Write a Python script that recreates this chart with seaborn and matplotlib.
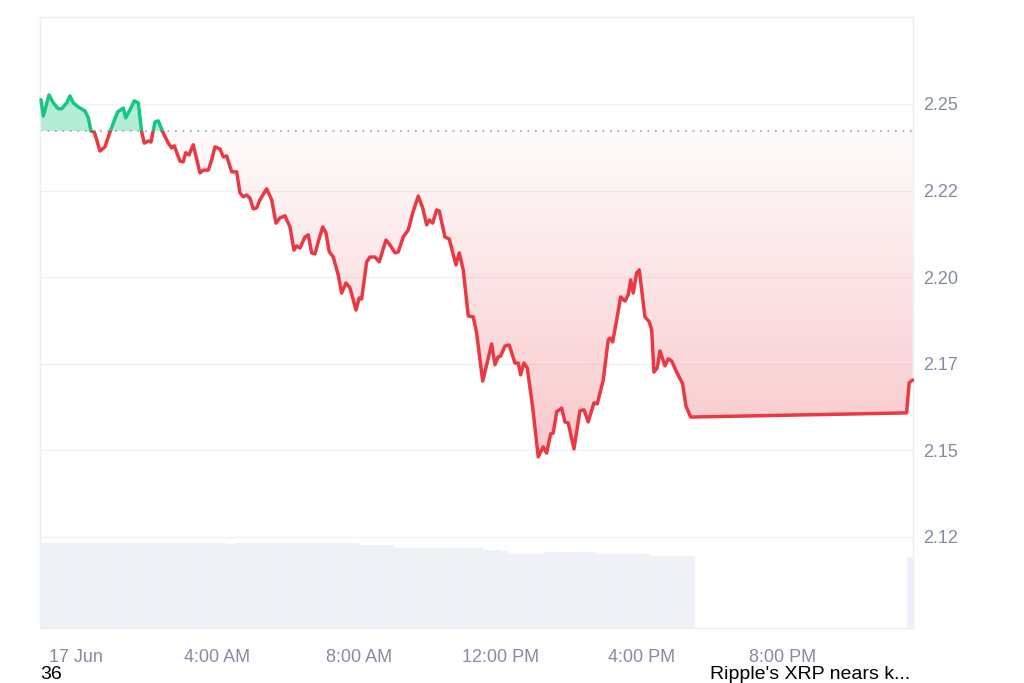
import matplotlib
matplotlib.use("Agg")

import numpy as np
import seaborn as sns
import matplotlib.pyplot as plt
from matplotlib.colors import to_rgb
from matplotlib.patches import Rectangle
from matplotlib.path import Path

# XRP price, 17 Jun (hours since midnight)
hours = [-0.990, -0.925, -0.764, -0.642, -0.501, -0.405, -0.263, -0.170, -0.076, 0.065,
         0.255, 0.348, 0.424, 0.518, 0.679, 0.820, 0.962, 1.055, 1.180, 1.338,
         1.406, 1.528, 1.649, 1.762, 1.859, 1.932, 2.045, 2.122, 2.235, 2.328,
         2.470, 2.611, 2.707, 2.781, 2.942, 3.035, 3.103, 3.197, 3.318, 3.366,
         3.508, 3.601, 3.743, 3.839, 3.932, 4.074, 4.167, 4.263, 4.405, 4.546,
         4.639, 4.733, 4.829, 4.922, 5.016, 5.112, 5.205, 5.395, 5.536, 5.658,
         5.771, 5.912, 6.054, 6.167, 6.243, 6.337, 6.478, 6.571, 6.668, 6.761,
         6.854, 6.979, 7.072, 7.166, 7.279, 7.420, 7.516, 7.638, 7.751, 7.921,
         8.014, 8.082, 8.223, 8.317, 8.458, 8.580, 8.769, 8.883, 9.024, 9.118,
         9.259, 9.400, 9.525, 9.683, 9.808, 9.921, 9.995, 10.091, 10.204, 10.277,
         10.438, 10.560, 10.750, 10.843, 10.956, 11.098, 11.239, 11.335, 11.505, 11.598,
         11.760, 11.853, 11.946, 12.014, 12.136, 12.257, 12.419, 12.512, 12.580, 12.673,
         12.767, 12.919, 13.078, 13.219, 13.315, 13.428, 13.502, 13.598, 13.740, 13.833,
         13.926, 14.088, 14.257, 14.371, 14.492, 14.653, 14.747, 14.917, 15.058, 15.106,
         15.183, 15.296, 15.409, 15.530, 15.624, 15.692, 15.765, 15.861, 15.935, 16.096,
         16.218, 16.286, 16.351, 16.444, 16.521, 16.662, 16.756, 16.852, 16.993, 17.163,
         17.256, 17.389, 23.499, 23.573, 23.669]
price = [2.2512, 2.2465, 2.2526, 2.2503, 2.2486, 2.2486, 2.2503, 2.2523, 2.2503, 2.2491,
         2.2480, 2.2460, 2.2422, 2.2419, 2.2364, 2.2376, 2.2419, 2.2445, 2.2477, 2.2488,
         2.2460, 2.2483, 2.2509, 2.2503, 2.2419, 2.2387, 2.2393, 2.2390, 2.2448, 2.2451,
         2.2416, 2.2387, 2.2373, 2.2379, 2.2335, 2.2333, 2.2359, 2.2353, 2.2382, 2.2361,
         2.2301, 2.2309, 2.2309, 2.2338, 2.2376, 2.2370, 2.2347, 2.2350, 2.2304, 2.2304,
         2.2243, 2.2232, 2.2237, 2.2228, 2.2197, 2.2200, 2.2223, 2.2255, 2.2223, 2.2156,
         2.2171, 2.2177, 2.2145, 2.2078, 2.2090, 2.2084, 2.2116, 2.2122, 2.2070, 2.2067,
         2.2102, 2.2145, 2.2128, 2.2073, 2.2058, 2.2006, 2.1954, 2.1983, 2.1969, 2.1905,
         2.1940, 2.1937, 2.2044, 2.2058, 2.2058, 2.2044, 2.2107, 2.2093, 2.2070, 2.2073,
         2.2116, 2.2136, 2.2185, 2.2234, 2.2200, 2.2151, 2.2165, 2.2156, 2.2194, 2.2191,
         2.2116, 2.2110, 2.2035, 2.2070, 2.2021, 2.1888, 2.1885, 2.1839, 2.1700, 2.1738,
         2.1807, 2.1747, 2.1770, 2.1772, 2.1801, 2.1804, 2.1752, 2.1752, 2.1718, 2.1752,
         2.1738, 2.1625, 2.1481, 2.1510, 2.1492, 2.1547, 2.1550, 2.1611, 2.1622, 2.1582,
         2.1579, 2.1504, 2.1614, 2.1617, 2.1582, 2.1637, 2.1634, 2.1703, 2.1819, 2.1824,
         2.1813, 2.1876, 2.1943, 2.1931, 2.1949, 2.1992, 2.1954, 2.2012, 2.2021, 2.1885,
         2.1871, 2.1848, 2.1726, 2.1738, 2.1787, 2.1744, 2.1764, 2.1758, 2.1726, 2.1692,
         2.1628, 2.1596, 2.1608, 2.1695, 2.1703]
open_price = 2.2422

# volume (relative), 15 min bars from 23:00 plus the last one
vol = [85, 85, 85, 85, 85, 85, 85, 85, 85, 85, 85, 85, 85, 85, 85, 85, 85, 85, 85, 85,
       85, 84, 85, 85, 85, 85, 85, 85, 85, 85, 85, 85, 85, 85, 85, 85, 83.5, 83.5, 83.5, 83.5,
       80, 80, 80, 80, 80, 80, 80, 80, 80, 80, 78, 78, 77, 74.5, 74.5, 74.5, 74.5, 76.5, 76.5, 76.5,
       76.5, 76.5, 76.5, 74.5, 74.5, 74.5, 74.5, 74.5, 74.5, 72.5, 72.5, 72.5, 72.5, 72.5]
vol_last = 71.5
vol_last_hour = 23.5

tick_hours = [0, 4, 8, 12, 16, 20]
tick_labels = ["17 Jun", "4:00 AM", "8:00 AM", "12:00 PM", "4:00 PM", "8:00 PM"]
price_ticks = [2.125, 2.15, 2.175, 2.2, 2.225, 2.25]
price_labels = ["2.12", "2.15", "2.17", "2.20", "2.22", "2.25"]

GREEN = "#16c784"
RED = "#ea3943"
GREY = "#858ca2"

sns.set_style("white")
plt.rcParams["font.family"] = ["Liberation Sans", "DejaVu Sans"]

hours = np.array(hours)
price = np.array(price)
xmin, xmax = -1.018, 23.68
ymin, ymax = 2.0987, 2.2751

fig = plt.figure(figsize=(10.24, 6.83), dpi=100)
ax = fig.add_axes([40 / 1024, 55 / 683, 873 / 1024, 611 / 683])

# volume on a twin axis, drawn underneath
axv = ax.twinx()
vol_hours = list(np.arange(len(vol)) * 0.25 - 1.0) + [vol_last_hour]
vol_all = vol + [vol_last]
widths = [0.25] * len(vol) + [0.17]
axv.bar(vol_hours, vol_all, width=widths, align="edge", color="#eef1f5",
        edgecolor="#f6f8fa", linewidth=0.3)
axv.set_ylim(0, 611)
axv.set_yticks([])
for s in axv.spines.values():
    s.set_visible(False)
ax.set_zorder(axv.get_zorder() + 1)
ax.patch.set_visible(False)

# green fill above the open
ax.fill_between(hours, price, open_price, where=price >= open_price, interpolate=True,
                color=GREEN, alpha=0.32, linewidth=0, zorder=1)

# red gradient fill below the open
poly = ax.fill_between(hours, price, open_price, where=price <= open_price, interpolate=True,
                       facecolor="none", edgecolor="none")
rgba = np.zeros((256, 1, 4))
rgba[..., :3] = to_rgb(RED)
rgba[..., 3] = np.linspace(0.28, 0.02, 256)[:, None]
img = ax.imshow(rgba, extent=[xmin, xmax, price.min(), open_price], origin="lower",
                aspect="auto", zorder=1)
img.set_clip_path(Path.make_compound_path(*poly.get_paths()), ax.transData)

# price line, red below the open and green above
sns.lineplot(x=hours, y=price, ax=ax, color=RED, linewidth=2.5, zorder=3)
red_line = ax.lines[-1]
red_line.set_clip_path(Rectangle((xmin - 1, ymin - 1), 30, open_price - ymin + 1,
                                 transform=ax.transData))
sns.lineplot(x=hours, y=price, ax=ax, color=GREEN, linewidth=2.5, zorder=3)
green_line = ax.lines[-1]
green_line.set_clip_path(Rectangle((xmin - 1, open_price), 30, 1, transform=ax.transData))

ax.axhline(open_price, color="#9aa1ad", linewidth=1.2, linestyle=(0, (1, 3.5)), zorder=2)

ax.set_xlim(xmin, xmax)
ax.set_ylim(ymin, ymax)
ax.set_xticks(tick_hours)
ax.set_xticklabels(tick_labels)
ax.set_yticks(price_ticks)
ax.set_yticklabels(price_labels)
ax.yaxis.tick_right()
ax.tick_params(axis="both", length=0, labelsize=13, labelcolor=GREY)
ax.tick_params(axis="y", pad=7)
ax.tick_params(axis="x", pad=15)
ax.grid(axis="y", color="#eff1f4", linewidth=1)
ax.grid(axis="x", visible=False)
ax.set_xlabel("")
ax.set_ylabel("")
for s in ax.spines.values():
    s.set_color("#eceef2")
    s.set_linewidth(1)

fig.text(40 / 1024, 4 / 683, "36", fontsize=14, color="black", va="baseline")
fig.text(710 / 1024, 4 / 683, "Ripple's XRP nears k...", fontsize=14, color="black",
         va="baseline")

fig.savefig("out.png", dpi=100)
plt.close()
